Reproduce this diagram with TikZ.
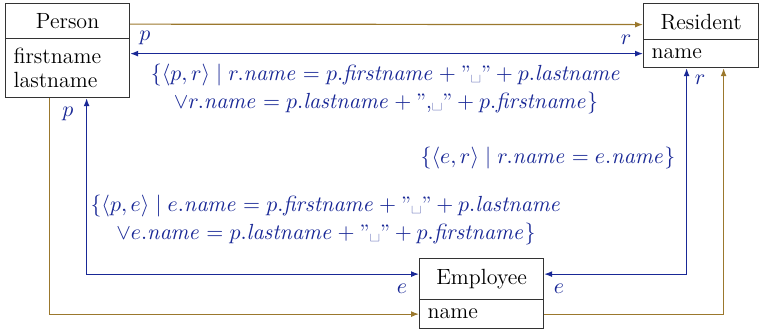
\documentclass[tikz,border=0pt]{standalone}
\usepackage{amsmath}
\usetikzlibrary{arrows.meta,calc}
\definecolor{olv}{RGB}{155,120,45}
\definecolor{blu}{RGB}{25,40,150}
\begin{document}
\begin{tikzpicture}[x=0.5pt,y=-0.5pt,
  box/.style={draw=black!80,line width=0.6pt,inner sep=0pt,anchor=north west,font=\fontsize{11}{13}\selectfont},
  attrbox/.style={box,align=left,inner xsep=4pt},
  olink/.style={draw=olv,line width=0.6pt,-{Latex[length=4pt,width=3pt]}},
  blink/.style={draw=blu,line width=0.6pt,{Latex[length=4pt,width=3pt]}-{Latex[length=4pt,width=3pt]}},
  lbl/.style={text=blu,font=\fontsize{11}{13}\selectfont,inner sep=0pt},
  frm/.style={text=blu,font=\fontsize{10.5}{14}\selectfont,inner sep=0pt,align=center}]
\useasboundingbox (0,0) rectangle (762,329);
% Person
\node[box,minimum width=62pt,minimum height=17.5pt] (ptitle) at (5,3) {Person};
\node[attrbox,minimum width=62pt,minimum height=29.5pt,text width=54pt] (pattr) at (5,38) {firstname\\[-1pt]lastname};
% Resident
\node[box,minimum width=57.5pt,minimum height=18pt] (rtitle) at (643,3) {Resident};
\node[attrbox,minimum width=57.5pt,minimum height=14pt,text width=49.5pt] (rattr) at (643,39) {name};
% Employee
\node[box,minimum width=62pt,minimum height=20.5pt] (etitle) at (419,258) {Employee};
\node[attrbox,minimum width=62pt,minimum height=14.5pt,text width=54pt] (eattr) at (419,299) {name};
% connectors
\draw[olink] ([yshift=-1.5pt]ptitle.east) -- ([yshift=-1.5pt]rtitle.west);
\draw[blink] (pattr.east |- rattr.west) -- (rattr.west);
\draw[olink] ([xshift=-9pt]pattr.south) |- (eattr.west);
\draw[blink] ([yshift=2.5pt]etitle.west) -| ([xshift=9.5pt]pattr.south);
\draw[blink] ([xshift=-7.25pt]rattr.south) |- ([yshift=2.5pt]etitle.east);
\draw[olink] (eattr.east) -| ([xshift=11.25pt]rattr.south);
% labels
\node[lbl] (lp1) at (145,38) {$p$};
\node[lbl] (lr1) at (626,40) {$r$};
\node[lbl] (lp2) at (68,114) {$p$};
\node[lbl] (lr2) at (700,80) {$r$};
\node[lbl] (le1) at (402,289) {$e$};
\node[lbl] (le2) at (559,289) {$e$};
% formulas
\node[frm] (f1) at (386,89) {$\{\langle p,r\rangle \mid r.\mathit{name} = p.\mathit{firstname} + \text{''\textvisiblespace''} + p.\mathit{lastname}$\\
$\vee r.\mathit{name} = p.\mathit{lastname} + \text{'',\textvisiblespace''} + p.\mathit{firstname}\}$};
\node[frm] (f2) at (548,158) {$\{\langle e,r\rangle \mid r.\mathit{name} = e.\mathit{name}\}$};
\node[frm] (f3) at (326,220) {$\{\langle p,e\rangle \mid e.\mathit{name} = p.\mathit{firstname} + \text{''\textvisiblespace''} + p.\mathit{lastname}$\\
$\vee e.\mathit{name} = p.\mathit{lastname} + \text{''\textvisiblespace''} + p.\mathit{firstname}\}$};
\end{tikzpicture}
\end{document}
